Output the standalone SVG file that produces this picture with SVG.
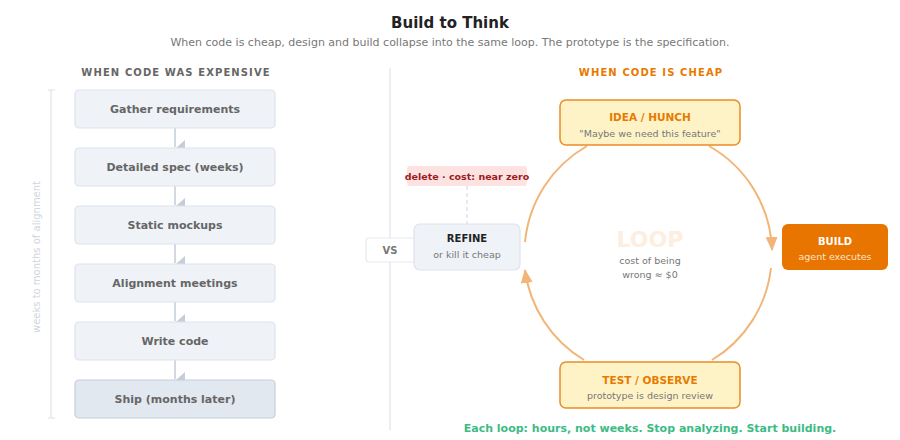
<svg xmlns="http://www.w3.org/2000/svg" width="900" height="440" viewBox="0 0 900 440">
<defs>
<style>
text{font-family:"DejaVu Sans","Liberation Sans",sans-serif}
.title{font-size:15px;font-weight:bold;fill:#222;text-anchor:middle}
.sub{font-size:11px;fill:#777;text-anchor:middle}
.head{font-size:10px;font-weight:bold;letter-spacing:1.1px;text-anchor:middle}
.step rect{fill:#eff3f8;stroke:#dde3ec;stroke-width:1.2}
.step text{font-size:11px;font-weight:bold;fill:#666;text-anchor:middle}
.final rect{fill:#e2e8f0;stroke:#c5cdd8}
.warm rect{fill:#fef3c7;stroke:#ec8c25;stroke-width:1.5}
.lbl{font-size:10.5px;font-weight:bold;fill:#e87a00;text-anchor:middle}
.note{font-size:9.5px;fill:#777;text-anchor:middle}
.arc{fill:none;stroke:#f2b577;stroke-width:2}
.conn{stroke:#c5cdd8;stroke-width:1.5;fill:none}
</style>
<marker id="ah" markerUnits="userSpaceOnUse" markerWidth="14" markerHeight="12" refX="13" refY="6" orient="auto">
<path d="M0,0 L14,6 L0,12 z" fill="#f2b577"/>
</marker>
</defs>
<rect width="900" height="440" fill="#ffffff"/>
<text class="title" x="450" y="28">Build to Think</text>
<text class="sub" x="450" y="46">When code is cheap, design and build collapse into the same loop. The prototype is the specification.</text>

<text class="head" x="176" y="76" fill="#666">WHEN CODE WAS EXPENSIVE</text>
<text class="head" x="651" y="76" fill="#e87a00">WHEN CODE IS CHEAP</text>
<line x1="390" y1="68" x2="390" y2="430" stroke="#e5e9ef" stroke-width="1.5"/>

<g id="bracket">
<line x1="51" y1="90" x2="51" y2="418" stroke="#e5e9ef" stroke-width="1.5"/>
<line x1="48" y1="90" x2="55" y2="90" stroke="#e5e9ef" stroke-width="1.5"/>
<line x1="48" y1="418" x2="55" y2="418" stroke="#e5e9ef" stroke-width="1.5"/>
<text x="37" y="257" transform="rotate(-90 37 257)" font-size="10" fill="#d0d6e0" text-anchor="middle" dominant-baseline="middle">weeks to months of alignment</text>
</g>

<g id="connectors">
<line class="conn" x1="175" y1="128" x2="175" y2="147"/>
<polygon points="176,148 185,140 185,148" fill="#c5cdd8"/>
<line class="conn" x1="175" y1="186" x2="175" y2="205"/>
<polygon points="176,206 185,198 185,206" fill="#c5cdd8"/>
<line class="conn" x1="175" y1="244" x2="175" y2="263"/>
<polygon points="176,264 185,256 185,264" fill="#c5cdd8"/>
<line class="conn" x1="175" y1="302" x2="175" y2="321"/>
<polygon points="176,322 185,314 185,322" fill="#c5cdd8"/>
<line class="conn" x1="175" y1="360" x2="175" y2="379"/>
<polygon points="176,380 185,372 185,380" fill="#c5cdd8"/>
<path class="arc" d="M709,146 A124,124 0 0 1 772,250" marker-end="url(#ah)"/>
<path class="arc" d="M771,268 A124,124 0 0 1 712,360"/>
<path class="arc" d="M584,360 A124,124 0 0 1 525,270" marker-end="url(#ah)"/>
<path class="arc" d="M525,242 A124,124 0 0 1 587,146"/>
<line x1="467" y1="186" x2="467" y2="224" stroke="#dde3ec" stroke-width="1.5" stroke-dasharray="4,3"/>
</g>

<g id="n1" class="step"><rect x="75" y="90" width="200" height="38" rx="4"/><text x="175" y="113">Gather requirements</text></g>
<g id="n2" class="step"><rect x="75" y="148" width="200" height="38" rx="4"/><text x="175" y="171">Detailed spec (weeks)</text></g>
<g id="n3" class="step"><rect x="75" y="206" width="200" height="38" rx="4"/><text x="175" y="229">Static mockups</text></g>
<g id="n4" class="step"><rect x="75" y="264" width="200" height="38" rx="4"/><text x="175" y="287">Alignment meetings</text></g>
<g id="n5" class="step"><rect x="75" y="322" width="200" height="38" rx="4"/><text x="175" y="345">Write code</text></g>
<g id="n6" class="step final"><rect x="75" y="380" width="200" height="38" rx="4"/><text x="175" y="403">Ship (months later)</text></g>

<g id="idea" class="warm"><rect x="560" y="100" width="180" height="45" rx="6"/><text class="lbl" x="650" y="121">IDEA / HUNCH</text><text class="note" x="650" y="137">"Maybe we need this feature"</text></g>
<g id="build"><rect x="782" y="224" width="106" height="46" rx="6" fill="#e87500"/><text x="835" y="245" font-size="10" font-weight="bold" fill="#ffffff" text-anchor="middle">BUILD</text><text x="835" y="260" font-size="9.5" fill="#fde4c8" text-anchor="middle">agent executes</text></g>
<g id="test" class="warm"><rect x="560" y="362" width="180" height="46" rx="6"/><text class="lbl" x="650" y="384">TEST / OBSERVE</text><text class="note" x="650" y="399">prototype is design review</text></g>
<g id="vs"><rect x="366" y="238" width="50" height="24" rx="3" fill="#ffffff" stroke="#e5e9ef" stroke-width="1.2"/><text x="390" y="254" font-size="10" font-weight="bold" fill="#777" text-anchor="middle">VS</text></g>
<g id="refine"><rect x="414" y="224" width="106" height="46" rx="6" fill="#eff3f8" stroke="#dde3ec" stroke-width="1.2"/><text x="467" y="242" font-size="10" font-weight="bold" fill="#222" text-anchor="middle">REFINE</text><text class="note" x="467" y="258">or kill it cheap</text></g>
<g id="delete"><rect x="407" y="166" width="120" height="20" rx="3" fill="#fde2e2"/><text x="467" y="180" font-size="9.5" font-weight="bold" fill="#9b1c1c" text-anchor="middle">delete · cost: near zero</text></g>
<g id="loop"><text x="650" y="247" font-size="22" font-weight="bold" fill="#fdeee0" text-anchor="middle">LOOP</text><text class="note" x="650" y="264">cost of being</text><text class="note" x="650" y="278">wrong ≈ $0</text></g>

<text x="650" y="432" font-size="11" font-weight="bold" fill="#3dbb84" text-anchor="middle">Each loop: hours, not weeks. Stop analyzing. Start building.</text>
</svg>
